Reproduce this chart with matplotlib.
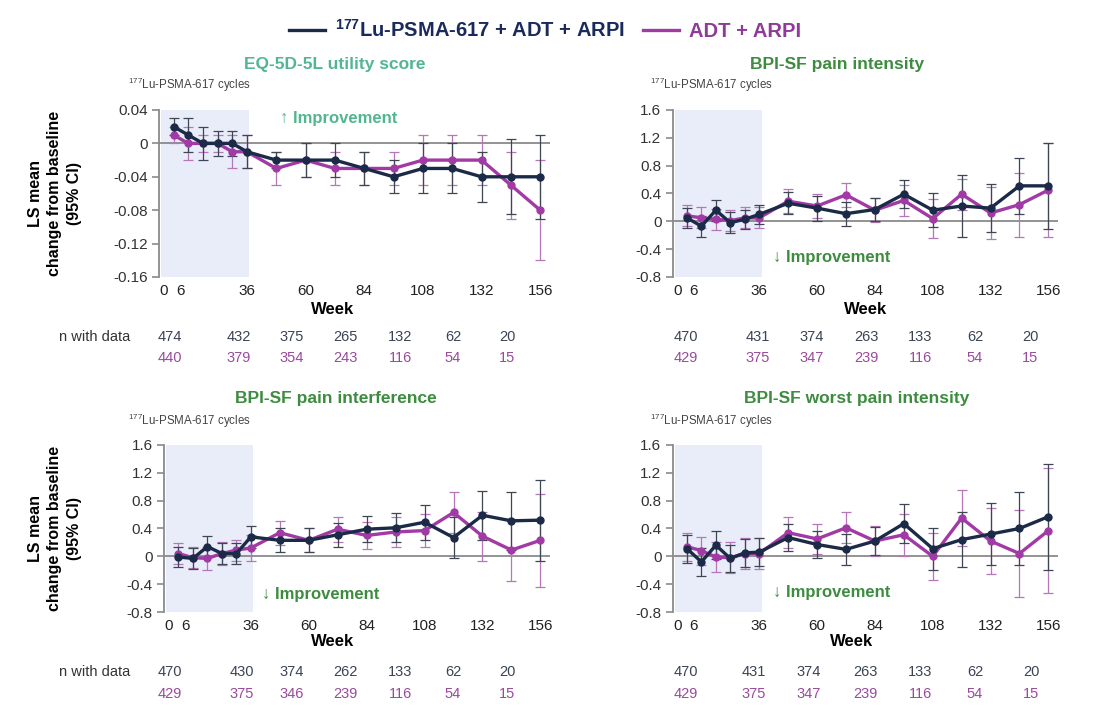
import matplotlib
matplotlib.use("Agg")
import matplotlib.pyplot as plt
from matplotlib.lines import Line2D
from matplotlib.ticker import FuncFormatter
import numpy as np

plt.rcParams['font.family'] = ['Liberation Sans', 'DejaVu Sans']
plt.rcParams['mathtext.fontset'] = 'custom'
plt.rcParams['mathtext.rm'] = 'Liberation Sans'
plt.rcParams['mathtext.bf'] = 'Liberation Sans:bold'
plt.rcParams['axes.unicode_minus'] = False

# ---------------- data ----------------
weeks = [6, 12, 18, 24, 30, 36, 48, 60, 72, 84, 96, 108, 120, 132, 144, 156]
xticks = [0, 6, 36, 60, 84, 108, 132, 156]

eq_lu = [0.02, 0.01, 0, 0, 0, -0.01, -0.02, -0.02, -0.02, -0.03, -0.04, -0.03, -0.03, -0.04, -0.04, -0.04]
eq_lu_err = [0.01, 0.02, 0.02, 0.015, 0.015, 0.02, 0.01, 0.02, 0.02, 0.02, 0.02, 0.03, 0.03, 0.03, 0.045, 0.05]
eq_adt = [0.01, 0, 0, 0, -0.01, -0.01, -0.03, -0.02, -0.03, -0.03, -0.03, -0.02, -0.02, -0.02, -0.05, -0.08]
eq_adt_err = [0.01, 0.02, 0.01, 0.01, 0.02, 0.02, 0.02, 0.02, 0.02, 0.02, 0.02, 0.03, 0.03, 0.03, 0.04, 0.06]

pi_lu = [0.05, -0.07, 0.16, -0.02, 0.03, 0.10, 0.26, 0.19, 0.11, 0.17, 0.39, 0.16, 0.22, 0.19, 0.51, 0.51]
pi_lu_err = [0.14, 0.15, 0.15, 0.15, 0.14, 0.14, 0.16, 0.18, 0.17, 0.17, 0.20, 0.24, 0.45, 0.34, 0.40, 0.62]
pi_adt = [0.08, 0.05, 0.03, 0.01, 0.05, 0.05, 0.29, 0.22, 0.38, 0.16, 0.30, 0.04, 0.39, 0.12, 0.24, 0.45]
pi_adt_err = [0.15, 0.15, 0.15, 0.15, 0.15, 0.15, 0.17, 0.17, 0.17, 0.17, 0.22, 0.28, 0.22, 0.38, 0.46, 0.68]

int_lu = [-0.01, -0.03, 0.14, 0.04, 0.04, 0.28, 0.23, 0.23, 0.31, 0.39, 0.41, 0.49, 0.27, 0.59, 0.51, 0.52]
int_lu_err = [0.15, 0.15, 0.15, 0.15, 0.15, 0.16, 0.17, 0.17, 0.17, 0.19, 0.21, 0.25, 0.30, 0.35, 0.42, 0.58]
int_adt = [0.04, -0.02, -0.03, 0.04, 0.09, 0.12, 0.34, 0.23, 0.39, 0.30, 0.35, 0.37, 0.63, 0.29, 0.09, 0.23]
int_adt_err = [0.15, 0.15, 0.16, 0.16, 0.15, 0.18, 0.17, 0.17, 0.18, 0.20, 0.22, 0.24, 0.30, 0.35, 0.45, 0.67]

wp_lu = [0.11, -0.08, 0.16, -0.03, 0.05, 0.06, 0.27, 0.17, 0.10, 0.22, 0.47, 0.11, 0.24, 0.32, 0.40, 0.57]
wp_lu_err = [0.20, 0.20, 0.20, 0.20, 0.20, 0.20, 0.20, 0.20, 0.22, 0.20, 0.28, 0.30, 0.40, 0.45, 0.53, 0.76]
wp_adt = [0.14, 0.08, -0.01, -0.02, 0.04, 0.04, 0.34, 0.25, 0.41, 0.22, 0.31, 0.0, 0.55, 0.22, 0.04, 0.37]
wp_adt_err = [0.20, 0.20, 0.22, 0.22, 0.22, 0.22, 0.22, 0.22, 0.22, 0.22, 0.30, 0.34, 0.40, 0.47, 0.62, 0.90]

n_eq_lu = [474, 432, 375, 265, 132, 62, 20]
n_eq_adt = [440, 379, 354, 243, 116, 54, 15]
n_pi_lu = [470, 431, 374, 263, 133, 62, 20]
n_pi_adt = [429, 375, 347, 239, 116, 54, 15]
n_int_lu = [470, 430, 374, 262, 133, 62, 20]
n_int_adt = [429, 375, 346, 239, 116, 54, 15]
n_wp_lu = [470, 431, 374, 263, 133, 62, 20]
n_wp_adt = [429, 375, 347, 239, 116, 54, 15]

titles = ["EQ-5D-5L utility score", "BPI-SF pain intensity",
          "BPI-SF pain interference", "BPI-SF worst pain intensity"]
lu_label = r"$\mathbf{^{177}}$Lu-PSMA-617 + ADT + ARPI"
adt_label = "ADT + ARPI"
cycles_label = r"$^{177}$Lu-PSMA-617 cycles"

# ---------------- style ----------------
NAVY = '#1b2a47'
MAG = '#a23aa6'
NAVY_ERR = '#3e4654'
MAG_ERR = '#b677b8'
TEAL = '#52b791'
GREEN = '#3d8c40'
SHADE = '#e9edf9'
AXC = '#8a8a8a'
TXT = '#333333'

W, H = 1106, 714
fig = plt.figure(figsize=(W / 100, H / 100), dpi=100)
fig.patch.set_facecolor('white')


def px_rect(x0, y0, x1, y1):
    return [x0 / W, 1 - y1 / H, (x1 - x0) / W, (y1 - y0) / H]


panels = [
    dict(rect=px_rect(159, 110, 550, 277), lu=eq_lu, lue=eq_lu_err, adt=eq_adt, adte=eq_adt_err,
         ylim=(-0.16, 0.04), yt=np.round(np.arange(-0.16, 0.041, 0.04), 2), title=titles[0], tcol=TEAL,
         tx=335, ty=65, sub=(128, 85), imp='↑ Improvement', impxy=(280, 118), nlu=n_eq_lu, nadt=n_eq_adt,
         nx=[170, 239, 292, 345, 400, 453, 507], ny=(337, 358), nlabel=True, wk=(333, 309), ylab=True),
    dict(rect=px_rect(672.5, 110, 1058, 277), lu=pi_lu, lue=pi_lu_err, adt=pi_adt, adte=pi_adt_err,
         ylim=(-0.8, 1.6), yt=np.round(np.arange(-0.8, 1.61, 0.4), 1), title=titles[1], tcol=GREEN,
         tx=837, ty=65, sub=(650, 85), imp='↓ Improvement', impxy=(773, 257), nlu=n_pi_lu, nadt=n_pi_adt,
         nx=[686, 758, 812, 866, 920, 975, 1030], ny=(337, 358), nlabel=False, wk=(866, 309), ylab=False),
    dict(rect=px_rect(164, 445, 550, 612), lu=int_lu, lue=int_lu_err, adt=int_adt, adte=int_adt_err,
         ylim=(-0.8, 1.6), yt=np.round(np.arange(-0.8, 1.61, 0.4), 1), title=titles[2], tcol=GREEN,
         tx=336, ty=398, sub=(128, 421), imp='↓ Improvement', impxy=(262, 594), nlu=n_int_lu, nadt=n_int_adt,
         nx=[170, 242, 292, 345, 400, 453, 507], ny=(672, 694), nlabel=True, wk=(333, 641), ylab=True),
    dict(rect=px_rect(672.5, 445, 1058, 612), lu=wp_lu, lue=wp_lu_err, adt=wp_adt, adte=wp_adt_err,
         ylim=(-0.8, 1.6), yt=np.round(np.arange(-0.8, 1.61, 0.4), 1), title=titles[3], tcol=GREEN,
         tx=857, ty=398, sub=(650, 421), imp='↓ Improvement', impxy=(773, 593), nlu=n_wp_lu, nadt=n_wp_adt,
         nx=[686, 754, 809, 865, 920, 975, 1031], ny=(672, 694), nlabel=False, wk=(852, 641), ylab=False),
]


def fmt(v, pos):
    if abs(v) < 1e-9:
        return '0'
    return f'{v:g}'


for p in panels:
    ax = fig.add_axes(p['rect'])
    ax.set_xlim(0, 160)
    ax.set_ylim(*p['ylim'])
    ax.axvspan(1, 37, color=SHADE, zorder=0, lw=0)
    ax.axhline(0, color=AXC, lw=1.3, zorder=1)
    ax.errorbar(weeks, p['adt'], yerr=p['adte'], fmt='none', ecolor=MAG_ERR, elinewidth=0.9,
                capsize=3.5, capthick=0.9, zorder=2)
    ax.errorbar(weeks, p['lu'], yerr=p['lue'], fmt='none', ecolor=NAVY_ERR, elinewidth=0.9,
                capsize=3.5, capthick=0.9, zorder=2)
    ax.plot(weeks, p['adt'], color=MAG, lw=2.4, marker='o', ms=5, zorder=3)
    ax.plot(weeks, p['lu'], color=NAVY, lw=2.4, marker='o', ms=5, zorder=4)

    for s in ['top', 'right', 'bottom']:
        ax.spines[s].set_visible(False)
    ax.spines['left'].set_color(AXC)
    ax.spines['left'].set_linewidth(1.3)
    ax.set_yticks(p['yt'])
    ax.yaxis.set_major_formatter(FuncFormatter(fmt))
    ax.set_xticks(xticks)
    ax.set_xticklabels([str(t) for t in xticks])
    ax.tick_params(axis='y', length=5, width=1.2, color=AXC, labelsize=11, labelcolor=TXT, pad=3)
    ax.tick_params(axis='x', length=0, labelsize=11, labelcolor='#222222', pad=5)
    # the reference places the "0" and "6" labels slightly right of their ticks
    for lab, dx in zip(ax.get_xticklabels()[:2], (5, 7)):
        lab.set_x(lab.get_position()[0])
        lab.set_transform(lab.get_transform() + matplotlib.transforms.ScaledTranslation(dx / 100, 0, fig.dpi_scale_trans))
    ax.patch.set_alpha(0)

    fig.text(p['tx'] / W, 1 - p['ty'] / H, p['title'], color=p['tcol'], fontsize=12.5,
             fontweight='bold', ha='center', va='center')
    fig.text(p['sub'][0] / W, 1 - p['sub'][1] / H, cycles_label, color='#444444', fontsize=8.3,
             ha='left', va='center')
    fig.text(p['impxy'][0] / W, 1 - p['impxy'][1] / H, p['imp'], color=p['tcol'], fontsize=12,
             fontweight='bold', ha='left', va='center', family=['Liberation Sans', 'DejaVu Sans'])
    fig.text(p['wk'][0] / W, 1 - p['wk'][1] / H, 'Week', color='black', fontsize=12,
             fontweight='bold', ha='center', va='center')
    for xx, a, b in zip(p['nx'], p['nlu'], p['nadt']):
        fig.text(xx / W, 1 - p['ny'][0] / H, str(a), color='#3b4454', fontsize=10.5, ha='center', va='center')
        fig.text(xx / W, 1 - p['ny'][1] / H, str(b), color='#994a9c', fontsize=10.5, ha='center', va='center')
    if p['nlabel']:
        fig.text(130 / W, 1 - p['ny'][0] / H, 'n with data', color='#333333', fontsize=10.5,
                 ha='right', va='center')
    if p['ylab']:
        fig.text(55 / W, p['rect'][1] + p['rect'][3] / 2, 'LS mean\nchange from baseline\n(95% CI)',
                 rotation=90, fontsize=11.5, fontweight='bold', ha='center', va='center',
                 linespacing=1.4, color='black')

handles = [Line2D([], [], color=NAVY, lw=2.4), Line2D([], [], color=MAG, lw=2.4)]
leg = fig.legend(handles, [lu_label, adt_label], loc='center', bbox_to_anchor=(545 / W, 1 - 30 / H),
                 ncol=2, frameon=False, prop={'size': 14.5, 'weight': 'bold'}, handlelength=1.8,
                 handletextpad=0.5, columnspacing=0.9)
leg.get_texts()[0].set_color('#1a2a5c')
leg.get_texts()[1].set_color('#8f3a98')

fig.savefig('out.png', dpi=100, facecolor='white')
